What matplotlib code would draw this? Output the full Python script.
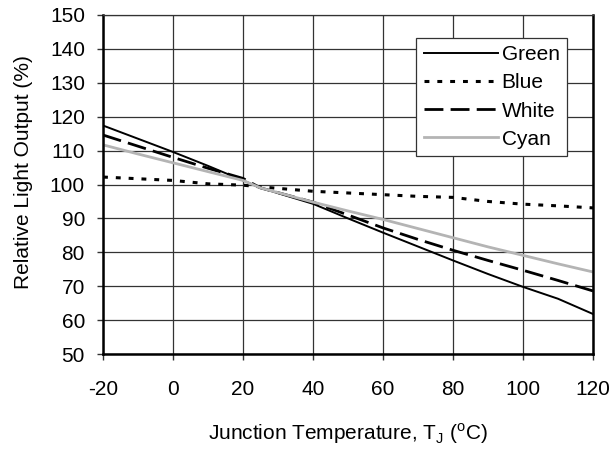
import matplotlib
matplotlib.use("Agg")
import matplotlib.pyplot as plt

plt.rcParams['font.family'] = ['Liberation Sans', 'DejaVu Sans']

temp = [-20, -10, 0, 10, 20, 25, 40, 50, 60, 70, 80, 90, 100, 110, 120]
green = [117.4, 113.5, 109.6, 105.5, 101.2, 99.0, 94.3, 90.0, 85.8, 81.7, 77.6, 73.6, 69.8, 66.3, 61.8]
blue = [102.2, 101.7, 101.2, 100.2, 99.8, 99.3, 98.0, 97.5, 97.0, 96.5, 96.2, 95.0, 94.2, 93.7, 93.1]
white = [114.6, 111.3, 108.0, 104.8, 101.8, 99.0, 94.8, 91.0, 87.2, 83.8, 80.6, 77.6, 74.7, 71.7, 68.6]
cyan = [111.7, 109.0, 106.4, 103.8, 101.2, 99.0, 94.8, 92.2, 89.7, 87.0, 84.3, 81.6, 79.1, 76.6, 74.2]

xticks = [-20, 0, 20, 40, 60, 80, 100, 120]
yticks = [50, 60, 70, 80, 90, 100, 110, 120, 130, 140, 150]

FS = 15

fig = plt.figure(figsize=(6.13, 4.51), dpi=100)
ax = fig.add_axes([103/613, 1-354/451, 490/613, 339/451])

ax.plot(temp, green, color='black', lw=1.4, label='Green')
ax.plot(temp, blue, color='black', lw=2.2, linestyle=(0, (1.6, 2.6)), label='Blue')
ax.plot(temp, white, color='black', lw=2.0, linestyle=(0, (6.8, 2.6)), label='White')
ax.plot(temp, cyan, color='#b4b4b4', lw=2.0, label='Cyan')

ax.set_xlim(-20, 120)
ax.set_ylim(50, 150)
ax.set_xticks(xticks)
ax.set_yticks(yticks)
ax.set_xticklabels([str(v) for v in xticks])
ax.grid(True, color='#333333', lw=0.9)
ax.set_axisbelow(True)
ax.tick_params(direction='out', length=4, width=1, labelsize=FS, color='#333333')
ax.tick_params(axis='x', pad=15)
ax.tick_params(axis='y', pad=9)

for s in ['left', 'bottom', 'right']:
    ax.spines[s].set_linewidth(1.8)
    ax.spines[s].set_color('black')
ax.spines['top'].set_linewidth(0.9)
ax.spines['top'].set_color('#333333')

ax.set_ylabel('Relative Light Output (%)', fontsize=FS)
ax.yaxis.set_label_coords(-0.143, 0.538)
ax.set_xlabel('Junction Temperature, T$_\\mathregular{J}$ ($^\\mathregular{o}$C)', fontsize=FS, labelpad=16)

leg = ax.legend(loc='upper right', bbox_to_anchor=(567/613, 1-38/451), bbox_transform=fig.transFigure,
                fontsize=FS, frameon=True, fancybox=False,
                handlelength=3.55, handletextpad=0.2, labelspacing=0.44, borderpad=0.35,
                borderaxespad=0)
leg.get_frame().set_edgecolor('#333333')
leg.get_frame().set_linewidth(0.9)
leg.get_frame().set_alpha(1)

fig.savefig('out.png', dpi=100)
